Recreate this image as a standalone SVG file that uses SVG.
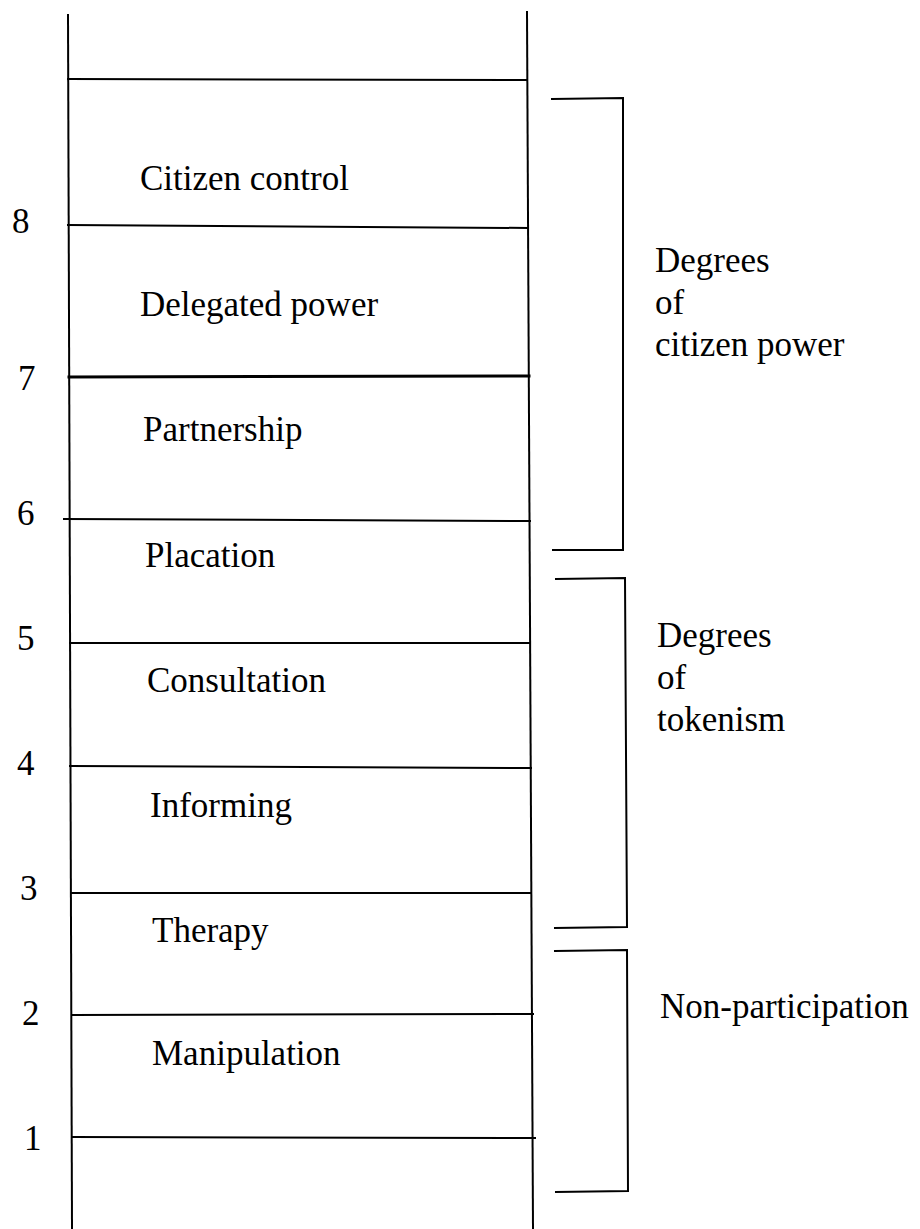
<svg xmlns="http://www.w3.org/2000/svg" width="920" height="1229" viewBox="0 0 920 1229">
<style>
  .ln { stroke: #000; stroke-width: 2; fill: none; stroke-linecap: square; }
  .thick { stroke-width: 3; }
  text { font-family: "Liberation Serif", "Times New Roman", serif; font-size: 35px; fill: #000; }
</style>
<rect width="920" height="1229" fill="#fff"/>
<g id="rails">
  <line class="ln" x1="68" y1="15" x2="72" y2="1229"/>
  <line class="ln" x1="527" y1="12" x2="533" y2="1229"/>
</g>
<g id="rung-top"><line class="ln" x1="68" y1="79" x2="527" y2="80"/></g>
<g id="rung-8"><line class="ln" x1="68" y1="225" x2="528" y2="228"/><text x="12" y="233">8</text><text x="140" y="190">Citizen control</text></g>
<g id="rung-7"><line class="ln thick" x1="69" y1="377" x2="529" y2="376"/><text x="18" y="390">7</text><text x="140" y="316">Delegated power</text></g>
<g id="rung-6"><line class="ln" x1="64" y1="519" x2="530" y2="521"/><text x="17" y="525">6</text><text x="143" y="441">Partnership</text></g>
<g id="rung-5"><line class="ln" x1="70" y1="643" x2="530" y2="643"/><text x="17" y="650">5</text><text x="145" y="567">Placation</text></g>
<g id="rung-4"><line class="ln" x1="70" y1="766" x2="531" y2="768"/><text x="17" y="775">4</text><text x="147" y="692">Consultation</text></g>
<g id="rung-3"><line class="ln" x1="71" y1="893" x2="531" y2="893"/><text x="20" y="900">3</text><text x="150" y="817">Informing</text></g>
<g id="rung-2"><line class="ln" x1="72" y1="1015" x2="533" y2="1014"/><text x="22" y="1025">2</text><text x="152" y="942">Therapy</text></g>
<g id="rung-1"><line class="ln" x1="72" y1="1137" x2="535" y2="1138"/><text x="24" y="1150">1</text><text x="152" y="1065">Manipulation</text></g>
<g id="connectors">
  <g id="bracket-citizen-power"><polyline class="ln" points="552,99 623,98 623,550 553,550"/></g>
  <g id="bracket-tokenism"><polyline class="ln" points="556,579 625,578 627,927 555,928"/></g>
  <g id="bracket-non-participation"><polyline class="ln" points="555,951 627,950 628,1191 556,1192"/></g>
</g>
<g id="label-citizen-power"><text x="655" y="272">Degrees</text><text x="655" y="314">of</text><text x="655" y="356">citizen power</text></g>
<g id="label-tokenism"><text x="657" y="647">Degrees</text><text x="657" y="689">of</text><text x="657" y="731">tokenism</text></g>
<g id="label-non-participation"><text x="660" y="1018">Non-participation</text></g>
</svg>
